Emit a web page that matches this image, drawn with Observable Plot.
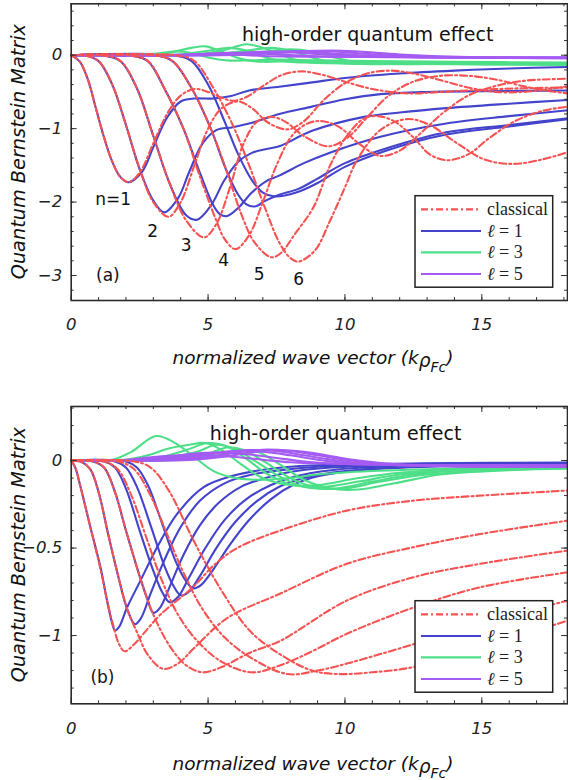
<!DOCTYPE html>
<html><head><meta charset="utf-8">
<script src="https://cdn.jsdelivr.net/npm/d3@7"></script>
<script src="https://cdn.jsdelivr.net/npm/@observablehq/plot@0.6"></script>
<style>
body{margin:0;background:#fff;}
#wrap{width:568px;height:780px;position:relative;overflow:hidden;background:#fff;}
#wrap svg{position:absolute;left:0;display:block;}
</style></head><body><div id="wrap"></div>
<script>
// ---------- data ----------
const xTicks = [0, 5, 10, 15];
const aYTicks = [0, -1, -2, -3];
const bYTicks = [0, -0.5, -1];
const seriesNames = ["classical", "ℓ = 1", "ℓ = 3", "ℓ = 5"];
const curveLabelsA = ["n=1", "2", "3", "4", "5", "6"];

// panel (a): each entry is one n = 1..6, points [k, value]
const aClassical = [
 [[0,0],[0.3,-0.08],[0.6,-0.32],[0.9,-0.72],[1.2,-1.12],[1.5,-1.45],[1.8,-1.66],[2.1,-1.73],[2.5,-1.6],[3.0,-1.2],[3.5,-0.8],[4.0,-0.55],[4.5,-0.46],[5.0,-0.5],[5.5,-0.58],[5.9,-0.62],[6.4,-0.57],[7.0,-0.42],[7.7,-0.27],[8.4,-0.22],[9.2,-0.27],[10,-0.36],[11,-0.46],[12.3,-0.52],[13.5,-0.5],[15,-0.47],[16.5,-0.45],[18.15,-0.44]],
 [[0,0],[0.5,-0.005],[1.0,-0.08],[1.5,-0.4],[2.0,-0.95],[2.5,-1.55],[3.0,-2.0],[3.55,-2.2],[4.0,-2.0],[4.5,-1.5],[5.0,-1.0],[5.5,-0.72],[6.1,-0.63],[6.6,-0.72],[7.2,-0.92],[7.9,-1.01],[8.5,-0.9],[9.2,-0.62],[10,-0.38],[10.8,-0.25],[11.66,-0.21],[12.5,-0.25],[13.5,-0.34],[14.5,-0.44],[15.5,-0.5],[16.5,-0.5],[17.3,-0.47],[18.15,-0.42]],
 [[0,0],[1.2,-0.005],[1.8,-0.08],[2.4,-0.45],[3.0,-1.1],[3.6,-1.75],[4.2,-2.25],[4.85,-2.48],[5.3,-2.3],[5.8,-1.8],[6.3,-1.2],[6.8,-0.9],[7.3,-0.84],[7.8,-0.9],[8.5,-1.1],[9.4,-1.24],[10.1,-1.12],[10.8,-0.85],[11.6,-0.55],[12.5,-0.36],[13.5,-0.28],[14.5,-0.28],[15.5,-0.33],[16.5,-0.42],[17.3,-0.48],[18.15,-0.52]],
 [[0,0],[2.2,-0.005],[2.8,-0.08],[3.4,-0.45],[4.1,-1.0],[4.7,-1.65],[5.3,-2.25],[5.6,-2.5],[6.0,-2.64],[6.5,-2.45],[7.0,-2.0],[7.5,-1.5],[8.1,-1.08],[8.7,-0.92],[9.2,-0.9],[9.8,-0.98],[10.5,-1.2],[11.27,-1.37],[12,-1.3],[12.8,-1.05],[13.6,-0.78],[14.5,-0.55],[15.5,-0.42],[16.5,-0.35],[17.3,-0.33],[18.15,-0.32]],
 [[0,0],[3.1,-0.005],[3.7,-0.08],[4.4,-0.45],[5.1,-1.0],[5.7,-1.6],[6.2,-2.15],[6.7,-2.55],[7.3,-2.75],[7.64,-2.7],[8.2,-2.42],[8.85,-2.07],[9.46,-1.5],[10.07,-1.1],[10.7,-0.86],[11.2,-0.83],[11.8,-0.9],[12.5,-1.12],[13.1,-1.35],[13.72,-1.43],[14.5,-1.35],[15.3,-1.12],[16.2,-0.9],[17.2,-0.76],[18.15,-0.7]],
 [[0,0],[3.9,-0.005],[4.5,-0.08],[5.2,-0.45],[5.9,-0.95],[6.5,-1.5],[7.1,-2.1],[7.6,-2.55],[8.0,-2.76],[8.3,-2.81],[8.9,-2.66],[9.46,-2.25],[10.0,-1.8],[10.44,-1.43],[11.29,-1.02],[12.26,-0.87],[13.1,-0.95],[14.1,-1.2],[15.1,-1.42],[16.15,-1.48],[17.2,-1.42],[18.15,-1.32]]
];
const aL1 = [
 [[0,0],[0.3,-0.08],[0.6,-0.32],[0.9,-0.72],[1.2,-1.12],[1.5,-1.45],[1.8,-1.66],[2.1,-1.73],[2.6,-1.58],[3.0,-1.25],[3.5,-0.85],[4.0,-0.63],[4.5,-0.59],[5.2,-0.59],[5.8,-0.56],[6.5,-0.48],[7.6,-0.43],[8.8,-0.37],[10,-0.31],[12,-0.25],[14,-0.21],[16,-0.18],[18.15,-0.16]],
 [[0,0],[0.5,-0.005],[1.0,-0.08],[1.5,-0.4],[2.0,-0.95],[2.5,-1.55],[3.0,-1.98],[3.4,-2.14],[3.9,-1.95],[4.3,-1.6],[4.8,-1.2],[5.3,-1.02],[5.9,-0.98],[6.6,-0.92],[7.6,-0.8],[8.8,-0.7],[10,-0.6],[11.3,-0.53],[13,-0.5],[15,-0.49],[18.15,-0.48]],
 [[0,0],[1.2,-0.005],[1.8,-0.08],[2.4,-0.45],[3.0,-1.1],[3.6,-1.75],[4.2,-2.18],[4.6,-2.24],[5.1,-2.05],[5.6,-1.7],[6.1,-1.45],[6.6,-1.33],[7.1,-1.28],[7.6,-1.24],[8.8,-1.03],[10.7,-0.84],[12,-0.78],[13.7,-0.72],[16,-0.66],[18.15,-0.61]],
 [[0,0],[2.2,-0.005],[2.8,-0.08],[3.4,-0.45],[4.1,-1.0],[4.7,-1.6],[5.2,-2.05],[5.45,-2.17],[5.7,-2.19],[6.1,-2.08],[6.6,-1.87],[7.1,-1.72],[7.6,-1.64],[8.5,-1.47],[9.5,-1.32],[11.3,-1.11],[13.7,-0.93],[16,-0.83],[18.15,-0.75]],
 [[0,0],[3.1,-0.005],[3.7,-0.08],[4.4,-0.45],[5.1,-1.0],[5.65,-1.55],[6.1,-1.9],[6.4,-2.03],[6.7,-2.06],[7.1,-1.98],[7.6,-1.9],[8.3,-1.82],[9,-1.68],[10,-1.47],[11.5,-1.27],[13.7,-1.05],[16,-0.95],[18.15,-0.86]],
 [[0,0],[3.8,-0.005],[4.4,-0.08],[5.0,-0.4],[5.6,-0.9],[6.1,-1.35],[6.6,-1.7],[7.0,-1.87],[7.4,-1.92],[7.8,-1.91],[8.3,-1.86],[9,-1.74],[10,-1.52],[11.5,-1.3],[13.7,-1.08],[16,-0.97],[18.15,-0.87]]
];
const aL3 = [
 [[0,0],[2,0.003],[3,0.02],[3.8,0.05],[4.4,0.03],[5,-0.03],[5.7,-0.07],[6.5,-0.07],[7.5,-0.06],[9,-0.07],[11,-0.08],[14,-0.09],[18.15,-0.1]],
 [[0,0],[2.5,0.003],[3.5,0.03],[4.4,0.1],[4.9,0.12],[5.5,0.05],[6.2,-0.05],[7,-0.09],[8,-0.08],[10,-0.09],[13,-0.1],[18.15,-0.11]],
 [[0,0],[3,0.003],[4,0.01],[5,0.06],[5.8,0.1],[6.4,0.06],[7.1,-0.03],[7.9,-0.09],[8.8,-0.1],[10.5,-0.1],[14,-0.11],[18.15,-0.12]],
 [[0,0],[3.5,0.003],[4.5,0.01],[5.5,0.06],[6.4,0.15],[7.0,0.1],[7.7,0.0],[8.5,-0.09],[9.5,-0.11],[11,-0.11],[14,-0.12],[18.15,-0.13]],
 [[0,0],[4,0.003],[5,0.01],[6.2,0.05],[7.3,0.1],[8.0,0.06],[8.8,-0.03],[9.6,-0.1],[10.6,-0.12],[12,-0.12],[15,-0.125],[18.15,-0.13]],
 [[0,0],[4.5,0.003],[5.5,0.01],[6.8,0.04],[8,0.08],[8.8,0.05],[9.6,-0.03],[10.5,-0.1],[11.5,-0.12],[13,-0.12],[16,-0.12],[18.15,-0.125]]
];
const aL5 = [
 [[0,0],[3,0],[4,0.01],[5,0.02],[6,0.01],[7,-0.01],[9,-0.02],[12,-0.025],[18.15,-0.03]],
 [[0,0],[3.5,0],[4.5,0.01],[5.5,0.03],[6.5,0.03],[7.5,0.01],[9,-0.015],[12,-0.028],[18.15,-0.032]],
 [[0,0],[4,0],[5,0.01],[6,0.03],[7,0.045],[8,0.04],[9,0.015],[10.5,-0.015],[13,-0.03],[18.15,-0.035]],
 [[0,0],[4.5,0],[5.5,0.01],[6.5,0.03],[7.5,0.05],[8.5,0.05],[9.5,0.025],[11,-0.01],[13.5,-0.03],[18.15,-0.037]],
 [[0,0],[5,0],[6,0.01],[7,0.03],[8,0.05],[9,0.06],[10,0.04],[11.5,0.0],[14,-0.03],[18.15,-0.04]],
 [[0,0],[5.5,0],[6.5,0.01],[7.5,0.03],[8.5,0.05],[9.5,0.065],[10.5,0.05],[12,0.01],[14.5,-0.025],[18.15,-0.04]]
];

// panel (b)
const bClassical = [
 [[0,0],[0.15,-0.04],[0.34,-0.15],[0.7,-0.38],[1.07,-0.62],[1.31,-0.8],[1.55,-0.95],[1.75,-1.05],[1.95,-1.09],[2.3,-1.05],[2.8,-0.96],[3.26,-0.88],[4.47,-0.72],[5.2,-0.6],[6.06,-0.5],[7.64,-0.4],[10.07,-0.286],[12.5,-0.229],[15,-0.2],[18.15,-0.171]],
 [[0,0],[0.4,-0.01],[0.7,-0.05],[1.0,-0.18],[1.35,-0.42],[1.7,-0.65],[2.05,-0.85],[2.4,-0.98],[2.8,-1.11],[3.35,-1.19],[3.9,-1.16],[4.5,-1.07],[5.7,-0.9],[7.64,-0.76],[10.07,-0.59],[12.5,-0.495],[14.94,-0.42],[18.15,-0.343]],
 [[0,0],[0.8,-0.005],[1.2,-0.04],[1.6,-0.18],[2.0,-0.4],[2.5,-0.66],[3.0,-0.88],[3.6,-1.06],[4.2,-1.17],[4.8,-1.21],[5.5,-1.18],[6.5,-1.1],[7.64,-1.03],[10.07,-0.8],[12.5,-0.667],[14.94,-0.59],[18.15,-0.514]],
 [[0,0],[1.2,-0.005],[1.7,-0.05],[2.2,-0.2],[2.7,-0.42],[3.3,-0.68],[3.9,-0.88],[4.6,-1.03],[5.5,-1.15],[6.6,-1.21],[7.64,-1.17],[8.8,-1.09],[10.07,-0.99],[12.5,-0.84],[14.94,-0.724],[18.15,-0.638]],
 [[0,0],[1.7,-0.005],[2.3,-0.05],[2.9,-0.2],[3.5,-0.42],[4.1,-0.64],[4.8,-0.85],[5.6,-1.01],[6.6,-1.13],[7.9,-1.22],[9.0,-1.2],[10.07,-1.16],[12.5,-1.05],[14.94,-0.93],[18.15,-0.8]],
 [[0,0],[2.3,-0.005],[2.9,-0.04],[3.56,-0.17],[4.48,-0.46],[5.52,-0.75],[6.57,-0.98],[7.87,-1.13],[8.8,-1.2],[9.7,-1.22],[11,-1.21],[12.5,-1.18],[14.94,-1.07],[18.15,-0.914]]
];
const bL1 = [
 [[0,0],[0.15,-0.04],[0.34,-0.15],[0.7,-0.38],[1.07,-0.61],[1.31,-0.8],[1.48,-0.92],[1.6,-0.97],[1.75,-0.95],[2.04,-0.84],[2.53,-0.686],[3.14,-0.495],[3.87,-0.305],[4.84,-0.152],[5.93,-0.086],[6.9,-0.055],[8,-0.035],[10,-0.022],[13,-0.015],[18.15,-0.012]],
 [[0,0],[0.4,-0.01],[0.7,-0.05],[1.0,-0.18],[1.35,-0.42],[1.7,-0.65],[2.05,-0.85],[2.33,-0.935],[2.55,-0.9],[2.9,-0.76],[3.4,-0.57],[4.0,-0.38],[4.7,-0.23],[5.6,-0.13],[6.6,-0.08],[7.64,-0.055],[9,-0.035],[11,-0.022],[18.15,-0.014]],
 [[0,0],[0.8,-0.005],[1.2,-0.04],[1.6,-0.18],[2.0,-0.4],[2.5,-0.66],[2.8,-0.8],[3.0,-0.87],[3.25,-0.84],[3.6,-0.72],[4.1,-0.54],[4.7,-0.37],[5.4,-0.24],[6.2,-0.15],[7.1,-0.1],[8,-0.065],[9.5,-0.04],[12,-0.025],[18.15,-0.016]],
 [[0,0],[1.2,-0.005],[1.6,-0.04],[2.0,-0.16],[2.5,-0.4],[3.0,-0.63],[3.35,-0.76],[3.6,-0.81],[3.9,-0.78],[4.3,-0.67],[4.9,-0.5],[5.6,-0.34],[6.4,-0.22],[7.3,-0.14],[8.2,-0.09],[9.5,-0.055],[12,-0.03],[18.15,-0.018]],
 [[0,0],[1.6,-0.005],[2.0,-0.04],[2.4,-0.15],[2.9,-0.37],[3.4,-0.6],[3.75,-0.72],[4.0,-0.77],[4.3,-0.75],[4.7,-0.66],[5.3,-0.5],[6.0,-0.35],[6.8,-0.23],[7.6,-0.15],[8.5,-0.1],[10,-0.06],[12.5,-0.035],[18.15,-0.02]],
 [[0,0],[2.0,-0.005],[2.4,-0.04],[2.8,-0.14],[3.3,-0.35],[3.8,-0.57],[4.2,-0.69],[4.45,-0.73],[4.75,-0.71],[5.2,-0.62],[5.8,-0.48],[6.5,-0.34],[7.3,-0.22],[8.1,-0.14],[9,-0.09],[10.5,-0.055],[13,-0.035],[18.15,-0.022]]
];
const bL3 = [
 [[0,0],[1.5,0.005],[2.2,0.05],[3.1,0.14],[3.8,0.1],[4.5,0.02],[5.2,-0.06],[6,-0.1],[7,-0.11],[8,-0.1],[9,-0.08],[11,-0.06],[14,-0.045],[18.15,-0.035]],
 [[0,0],[2,0.005],[2.8,0.03],[3.6,0.07],[4.3,0.09],[4.9,0.1],[5.5,0.06],[6.2,-0.02],[7,-0.1],[8,-0.14],[9,-0.14],[10.5,-0.1],[12,-0.07],[14.5,-0.05],[18.15,-0.035]],
 [[0,0],[2.5,0.002],[3.3,0.02],[4.2,0.06],[5.0,0.1],[5.7,0.08],[6.4,0.01],[7.2,-0.08],[8.1,-0.14],[9.2,-0.15],[10.5,-0.12],[12,-0.08],[14.5,-0.05],[18.15,-0.04]],
 [[0,0],[2.8,0.002],[3.7,0.02],[4.6,0.05],[5.3,0.09],[5.9,0.07],[6.7,0.0],[7.6,-0.09],[8.5,-0.15],[9.6,-0.16],[11,-0.12],[12.5,-0.08],[15,-0.05],[18.15,-0.04]],
 [[0,0],[3.2,0.002],[4.1,0.015],[5.0,0.04],[5.7,0.075],[6.3,0.06],[7.1,-0.01],[8.0,-0.1],[9,-0.155],[10,-0.16],[11.3,-0.12],[13,-0.08],[15.5,-0.055],[18.15,-0.045]],
 [[0,0],[3.6,0.002],[4.5,0.01],[5.4,0.03],[6.2,0.06],[6.8,0.05],[7.6,-0.02],[8.5,-0.11],[9.5,-0.16],[10.5,-0.165],[11.8,-0.13],[13.5,-0.08],[16,-0.055],[18.15,-0.045]]
];
const bL5 = [
 [[0,0],[1,0],[2,0.005],[3,0.02],[4,0.03],[5,0.03],[6,0.02],[7,0.005],[8,-0.01],[10,-0.02],[13,-0.025],[18.15,-0.025]],
 [[0,0],[1.5,0],[2.5,0.005],[3.5,0.02],[4.5,0.04],[5.5,0.045],[6.5,0.035],[7.5,0.015],[8.5,-0.005],[10,-0.02],[13,-0.028],[18.15,-0.028]],
 [[0,0],[2,0],[3,0.005],[4,0.02],[5,0.04],[6,0.055],[7,0.05],[8,0.03],[9,0.005],[10.2,-0.015],[12.5,-0.028],[18.15,-0.03]],
 [[0,0],[2.5,0],[3.5,0.005],[4.5,0.02],[5.5,0.045],[6.5,0.06],[7.5,0.055],[8.5,0.03],[9.5,0.005],[10.8,-0.018],[13,-0.03],[18.15,-0.032]],
 [[0,0],[3,0],[4,0.005],[5,0.02],[6,0.045],[7,0.062],[8,0.055],[9,0.03],[10,0.005],[11.3,-0.018],[13.5,-0.032],[18.15,-0.034]],
 [[0,0],[3.5,0],[4.5,0.005],[5.5,0.02],[6.5,0.045],[7.5,0.06],[8.5,0.05],[9.5,0.025],[10.5,0.0],[11.8,-0.02],[14,-0.033],[18.15,-0.036]]
];

// ---------- styling ----------
const COLORS = {classical: "#f75252", l1: "#4343cc", l3: "#4ddf88", l5: "#a45bf2"};
const DASH = "7,3,2,3";
const SANS = "'DejaVu Sans', sans-serif";
const SERIF = "'Liberation Serif', 'DejaVu Serif', serif";
const W = 568, H = 390;
const ML = 70.7, MR = 1;
const XDOMAIN = [0, 18.13];
const fmtY = d => d === 0 ? "0" : "\u2212" + Math.abs(d);

function toRows(curves) {
  return curves.flatMap((pts, i) => pts.map(([x, y]) => ({n: i + 1, x, y})));
}

function panel(opt) {
  const plotH = H - opt.mt - opt.mb;
  const plotW = W - ML - MR;
  const lineOpts = (stroke, extra = {}) => ({x: "x", y: "y", z: "n", stroke, strokeWidth: 2.1, curve: "catmull-rom", ...extra});
  const minorX = d3.range(0, 19);
  const svg = Plot.plot({
    width: W, height: H,
    marginLeft: ML, marginRight: MR, marginTop: opt.mt, marginBottom: opt.mb,
    style: {fontFamily: SANS, fontSize: "16.5px", fontStyle: "italic", color: "#222", background: "transparent", overflow: "visible"},
    x: {domain: XDOMAIN, ticks: xTicks, tickSize: 0, tickPadding: 18, label: null},
    y: {domain: opt.yDomain, ticks: opt.yTicks, tickSize: 0, tickPadding: 9, label: null, tickFormat: fmtY},
    marks: [
      Plot.line(toRows(opt.l1), lineOpts(COLORS.l1)),
      Plot.line(toRows(opt.l3), lineOpts(COLORS.l3)),
      Plot.line(toRows(opt.l5), lineOpts(COLORS.l5)),
      Plot.line(toRows(opt.classical), lineOpts(COLORS.classical, {strokeDasharray: DASH})),
      // inward ticks on all four sides
      Plot.tickX(minorX, {x: d => d, insetTop: plotH - 3, stroke: "#333", strokeWidth: 1}),
      Plot.tickX(xTicks, {x: d => d, insetTop: plotH - 6, stroke: "#333", strokeWidth: 1}),
      Plot.tickX(minorX, {x: d => d, insetBottom: plotH - 3, stroke: "#333", strokeWidth: 1}),
      Plot.tickX(xTicks, {x: d => d, insetBottom: plotH - 6, stroke: "#333", strokeWidth: 1}),
      Plot.tickY(opt.yMinor, {y: d => d, insetRight: plotW - 3, stroke: "#333", strokeWidth: 1}),
      Plot.tickY(opt.yTicks, {y: d => d, insetRight: plotW - 6, stroke: "#333", strokeWidth: 1}),
      Plot.tickY(opt.yMinor, {y: d => d, insetLeft: plotW - 3, stroke: "#333", strokeWidth: 1}),
      Plot.tickY(opt.yTicks, {y: d => d, insetLeft: plotW - 6, stroke: "#333", strokeWidth: 1}),
      Plot.text(opt.labels, {x: "x", y: "y", text: "text", fontSize: opt.labelSize || 17, fontStyle: "normal", fill: "#111", fontFamily: SANS}),
      Plot.text([opt.hoq], {x: "x", y: "y", text: "text", fontSize: 19, fontStyle: "normal", fill: "#111", fontFamily: SANS}),
      Plot.frame({stroke: "#2b2b2b", strokeWidth: 1.6})
    ]
  });
  const s = d3.select(svg);
  // y-axis title
  const cy = opt.mt + plotH / 2;
  s.append("text")
    .attr("transform", `translate(18,${cy}) rotate(-90)`)
    .attr("text-anchor", "middle").attr("dominant-baseline", "central")
    .attr("font-family", SANS).attr("font-style", "italic").attr("font-size", 19.3).attr("fill", "#111")
    .text("Quantum Bernstein Matrix");
  // x-axis title with subscripts
  const xt = s.append("text")
    .attr("x", 313).attr("y", opt.mt + plotH + opt.xTitleDy)
    .attr("text-anchor", "middle")
    .attr("font-family", SANS).attr("font-style", "italic").attr("font-size", 18.5).attr("fill", "#111");
  xt.append("tspan").text("normalized wave vector (k");
  xt.append("tspan").attr("dy", 3).text("ρ");
  xt.append("tspan").attr("dy", 5).attr("font-size", 14).text("Fc");
  xt.append("tspan").attr("dy", -8).text(")");
  // legend box
  const lg = s.append("g").attr("text-anchor", "start");
  const lx = 415, ly = opt.legendTop, lw = 137.7, lh = 91.5;
  lg.append("rect").attr("x", lx).attr("y", ly).attr("width", lw).attr("height", lh)
    .attr("fill", "#fff").attr("stroke", "#222").attr("stroke-width", 1.5);
  const keys = ["classical", "l1", "l3", "l5"];
  const ys = [13.6, 35.3, 56.6, 78.3];
  keys.forEach((k, i) => {
    const y = ly + ys[i];
    lg.append("line").attr("x1", lx + 6).attr("x2", lx + 66).attr("y1", y).attr("y2", y)
      .attr("stroke", COLORS[k]).attr("stroke-width", 2.2)
      .attr("stroke-dasharray", k === "classical" ? DASH : null);
    const t = lg.append("text").attr("x", lx + 72).attr("y", y)
      .attr("text-anchor", "start")
      .attr("dominant-baseline", "central").attr("font-family", SERIF)
      .attr("font-size", 18).attr("fill", "#222").attr("font-style", "normal");
    if (k === "classical") t.text(seriesNames[0]);
    else {
      const [ell, rest] = seriesNames[i].split(" = ");
      t.append("tspan").attr("font-style", "italic").text(ell);
      t.append("tspan").text(" = " + rest);
    }
  });
  return svg;
}

const wrap = document.getElementById("wrap");

const svgA = panel({
  mt: 3.3, mb: 90,
  yDomain: [-3.34, 0.70], yTicks: aYTicks,
  yMinor: d3.range(-16, 4).map(i => i * 0.2),
  classical: aClassical, l1: aL1, l3: aL3, l5: aL5,
  labels: [
    {x: 1.53, y: -1.97, text: curveLabelsA[0]},
    {x: 2.98, y: -2.40, text: curveLabelsA[1]},
    {x: 4.20, y: -2.59, text: curveLabelsA[2]},
    {x: 5.57, y: -2.80, text: curveLabelsA[3]},
    {x: 6.87, y: -2.99, text: curveLabelsA[4]},
    {x: 8.31, y: -3.06, text: curveLabelsA[5]},
    {x: 1.34, y: -3.0, text: "(a)"}
  ],
  hoq: {x: 10.83, y: 0.27, text: "high-order quantum effect"},
  xTitleDy: 64,
  legendTop: 195.7
});
svgA.style.top = "0px";
wrap.appendChild(svgA);

const svgB = panel({
  mt: 16, mb: 76.7,
  yDomain: [-1.39, 0.309], yTicks: bYTicks,
  yMinor: d3.range(-13, 4).map(i => i / 10),
  classical: bClassical, l1: bL1, l3: bL3, l5: bL5,
  labels: [{x: 1.14, y: -1.238, text: "(b)"}],
  hoq: {x: 9.66, y: 0.154, text: "high-order quantum effect"},
  xTitleDy: 67,
  legendTop: 210.7
});
svgB.style.top = "390px";
wrap.appendChild(svgB);
</script></body></html>
